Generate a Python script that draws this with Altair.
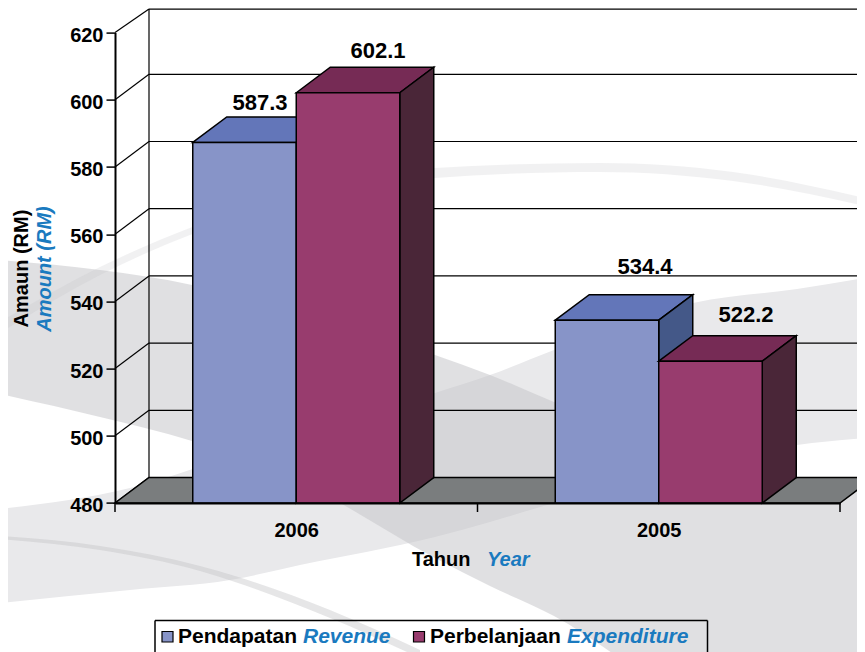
import altair as alt
import pandas as pd

# ---- chart values ----
CATEGORIES = ["2006", "2005"]
REVENUE = [587.3, 534.4]
EXPENDITURE = [602.1, 522.2]
Y_TICKS = [480, 500, 520, 540, 560, 580, 600, 620]
X_EDGES = [0, 1, 2]
X_CENTRES = [0.5, 1.5]
Y_MIN, Y_MAX = 480, 620

# decoration outlines (page pixels)
A_X = [0, 130, 230, 300, 435, 490, 554, 693, 797, 865]
A_TOP = [509, 488, 457, 436, 393, 375, 350, 303, 289, 278]
A_BOT = [603, 590, 580, 565, 537, 522, 503, 468, 445, 438]
B_X = [0, 100, 192, 300, 435, 490, 554, 650, 797, 865]
B_TOP = [260, 270, 285, 318, 355, 375, 402, 440, 478, 480]
B_BOT = [394, 417, 441, 482, 558, 586, 616, 678, 760, 800]
C_X = [0, 100, 195, 435, 600, 733, 865]
C_TOP = [322, 267, 226, 168, 163, 172, 198]
C_BOT = [333, 275, 233, 178, 172, 181, 206]
D_X = [0, 100, 200, 235, 330, 420]
D_TOP = [536, 546, 566, 576, 610, 650]
D_BOT = [539, 550, 571, 582, 618, 658]

# ---- geometry of the pseudo 3D box ----
X0_PX, X2_PX, Y0_PX, Y620_PX = 115, 840, 503, 32.6
PX_PER_U = (X2_PX - X0_PX) / 2
PX_PER_V = (Y0_PX - Y620_PX) / (Y_MAX - Y_MIN)
DX = 34 / PX_PER_U
DV = 25.5 / PX_PER_V
BAR_W = 103.5 / PX_PER_U
TOP_LIMIT = 627.0  # highest level the page can show


def ux(px):
    return (px - X0_PX) / PX_PER_U


def vy(py):
    return Y_MIN + (Y0_PX - py) / PX_PER_V


X_SCALE = alt.Scale(domain=[0, 2], nice=False, zero=False)
Y_SCALE = alt.Scale(domain=[Y_MIN, Y_MAX], nice=False, zero=False)
FONT = "Liberation Sans"
BLUE_TXT = "#1a7abf"
LW = 1.5


def X(field="x:Q"):
    return alt.X(field, scale=X_SCALE, title=None)


def Y(field="y:Q"):
    return alt.Y(field, scale=Y_SCALE, title=None)


def area(rows, fill, stroke=None, opacity=None, interpolate=None):
    df = pd.DataFrame(rows, columns=["x", "y", "y2"])
    kw = {"fill": fill}
    if stroke:
        kw.update(stroke=stroke, strokeWidth=LW, strokeJoin="miter")
    else:
        kw.update(strokeWidth=0)
    if opacity is not None:
        kw["opacity"] = opacity
    if interpolate:
        kw["interpolate"] = interpolate
    return alt.Chart(df).mark_area(**kw).encode(x=X(), y=Y(), y2="y2:Q")


def swoosh(xs, top, bot, fill, opacity):
    rows = [(ux(a), vy(b), vy(c)) for a, b, c in zip(xs, top, bot)]
    return area(rows, fill, opacity=opacity, interpolate="monotone")


def parallelogram(x0, x1, v, fill):
    return area(
        [(x0, v, v), (x0 + DX, v + DV, v), (x1, v + DV, v), (x1 + DX, v + DV, v + DV)],
        fill, stroke="#000000",
    )


def side(x1, v, fill):
    return area([(x1, v, Y_MIN), (x1 + DX, v + DV, Y_MIN + DV)], fill, stroke="#000000")


def front(x0, x1, v, fill):
    return area([(x0, v, Y_MIN), (x1, v, Y_MIN)], fill, stroke="#000000")


def bar(x0, x1, v, cols):
    return [parallelogram(x0, x1, v, cols[1]), side(x1, v, cols[2]), front(x0, x1, v, cols[0])]


# real axes (first layer, so their settings win; drawn on top through zindex)
axes = alt.Chart(pd.DataFrame({"x": X_CENTRES, "y": [Y_MIN, Y_MAX]})).mark_point(opacity=0).encode(
    x=alt.X(
        "x:Q", scale=X_SCALE, title=None,
        axis=alt.Axis(
            values=X_CENTRES, ticks=False, grid=False, domain=True, domainColor="#000000",
            domainWidth=2, labelFont=FONT, labelFontSize=20, labelFontWeight="bold",
            labelColor="#000000", labelPadding=17, labelFlush=False, zindex=1,
            labelExpr="datum.value < 1 ? '%s' : '%s'" % tuple(CATEGORIES),
        ),
    ),
    y=alt.Y(
        "y:Q", scale=Y_SCALE, title=None,
        axis=alt.Axis(
            values=Y_TICKS, grid=False, domain=True, domainColor="#000000", domainWidth=2,
            tickColor="#000000", tickSize=9, tickWidth=LW, labelFont=FONT, labelFontSize=20,
            labelFontWeight="bold", labelColor="#000000", labelPadding=3, labelOffset=2.5,
            labelFlush=False, zindex=1,
        ),
    ),
)

layers = [
    axes,
    swoosh(A_X, A_TOP, A_BOT, "#e9e9eb", 1),
    swoosh(B_X, B_TOP, B_BOT, "#c6c6ca", 0.545),
    swoosh(C_X, C_TOP, C_BOT, "#c0c0c4", 0.22),
    swoosh(D_X, D_TOP, D_BOT, "#c0c0c4", 0.4),
]

# walls
wall_rows = []
for t in Y_TICKS:
    back = min(t + DV, TOP_LIMIT)
    wall_rows.append(dict(x=DX, x2=2 + DX, y=back, y2=back))
    wall_rows.append(dict(x=0, x2=DX, y=t, y2=back))
wall_rows.append(dict(x=DX, x2=DX, y=Y_MIN + DV, y2=TOP_LIMIT))
layers.append(
    alt.Chart(pd.DataFrame(wall_rows)).mark_rule(color="#000000", strokeWidth=1.2).encode(
        x=X(), x2="x2:Q", y=Y(), y2="y2:Q",
    )
)

# floor
layers.append(parallelogram(0, 2, Y_MIN, "#7a7d7e"))

# bars
BLUE = ("#8794c8", "#6376b9", "#445888")
MAG = ("#983c6e", "#762b55", "#4a2638")
for c, r, e in zip(X_CENTRES, REVENUE, EXPENDITURE):
    layers += bar(c - BAR_W, c, r, BLUE)
    layers += bar(c, c + BAR_W, e, MAG)

# x ticks
layers.append(
    alt.Chart(pd.DataFrame({"x": X_EDGES, "y": [Y_MIN] * 3, "y2": [Y_MIN - 9 / PX_PER_V] * 3}))
    .mark_rule(color="#000000", strokeWidth=LW)
    .encode(x=X(), y=Y(), y2="y2:Q")
)


def text(items, size=20, angle=None, color="#000000", italic=False, **mk):
    df = pd.DataFrame([dict(t=t, x=ux(a), y=vy(b)) for t, a, b in items])
    kw = dict(font=FONT, fontSize=size, fontWeight="bold", baseline="middle", color=color)
    kw.update(mk)
    if italic:
        kw["fontStyle"] = "italic"
    if angle is not None:
        kw["angle"] = angle
    return alt.Chart(df).mark_text(**kw).encode(x=X(), y=Y(), text="t:N")


# value labels
layers.append(text([
    (f"{REVENUE[0]:.1f}", 260, 102.5),
    (f"{EXPENDITURE[0]:.1f}", 378, 50.5),
    (f"{REVENUE[1]:.1f}", 645, 266.5),
    (f"{EXPENDITURE[1]:.1f}", 746, 314.5),
], size=22, align="center"))

# axis titles
layers.append(text([("Tahun", 412, 559.5)], size=20, align="left"))
layers.append(text([("Year", 487, 559.5)], size=20, align="left", color=BLUE_TXT, italic=True))
layers.append(text([("Amaun (RM)", 22, 268.5)], size=20, angle=270, align="center"))
layers.append(text([("Amount (RM)", 45, 269)], size=20, angle=270, align="center", color=BLUE_TXT, italic=True))

# legend frame
frame = pd.DataFrame({
    "x": [ux(155), ux(155), ux(707.5)],
    "x2": [ux(707.5), ux(155), ux(707.5)],
    "y": [vy(620.5), vy(620.5), vy(620.5)],
    "y2": [vy(620.5), vy(670), vy(670)],
})
layers.append(
    alt.Chart(frame).mark_rule(color="#000000", strokeWidth=LW).encode(
        x=X(), x2="x2:Q", y=Y(), y2="y2:Q",
    )
)
swatches = pd.DataFrame({
    "x": [ux(162), ux(413.5)], "x2": [ux(173), ux(424.5)],
    "y": [vy(631.5), vy(631.5)], "y2": [vy(642), vy(642)],
    "c": [BLUE[0], MAG[0]],
})
layers.append(
    alt.Chart(swatches).mark_rect(stroke="#000000", strokeWidth=1.2).encode(
        x=X(), x2="x2:Q", y=Y(), y2="y2:Q",
        fill=alt.Fill("c:N", scale=None),
    )
)
layers.append(text([("Pendapatan", 178, 637), ("Perbelanjaan", 430, 637)], size=21, align="left"))
layers.append(text([("Revenue", 303, 637), ("Expenditure", 567, 637)], size=21, align="left", color=BLUE_TXT, italic=True))

chart = alt.layer(*layers).properties(
    width=X2_PX - X0_PX,
    height=Y0_PX - Y620_PX,
    padding={"left": X0_PX - 8, "top": Y620_PX - 8, "right": 857 - X2_PX, "bottom": 652 - Y0_PX},
    autosize=alt.AutoSizeParams(type="none"),
    background="#ffffff",
).configure_view(stroke=None)

chart.save("out.html", embed_options={"renderer": "svg", "actions": False})
